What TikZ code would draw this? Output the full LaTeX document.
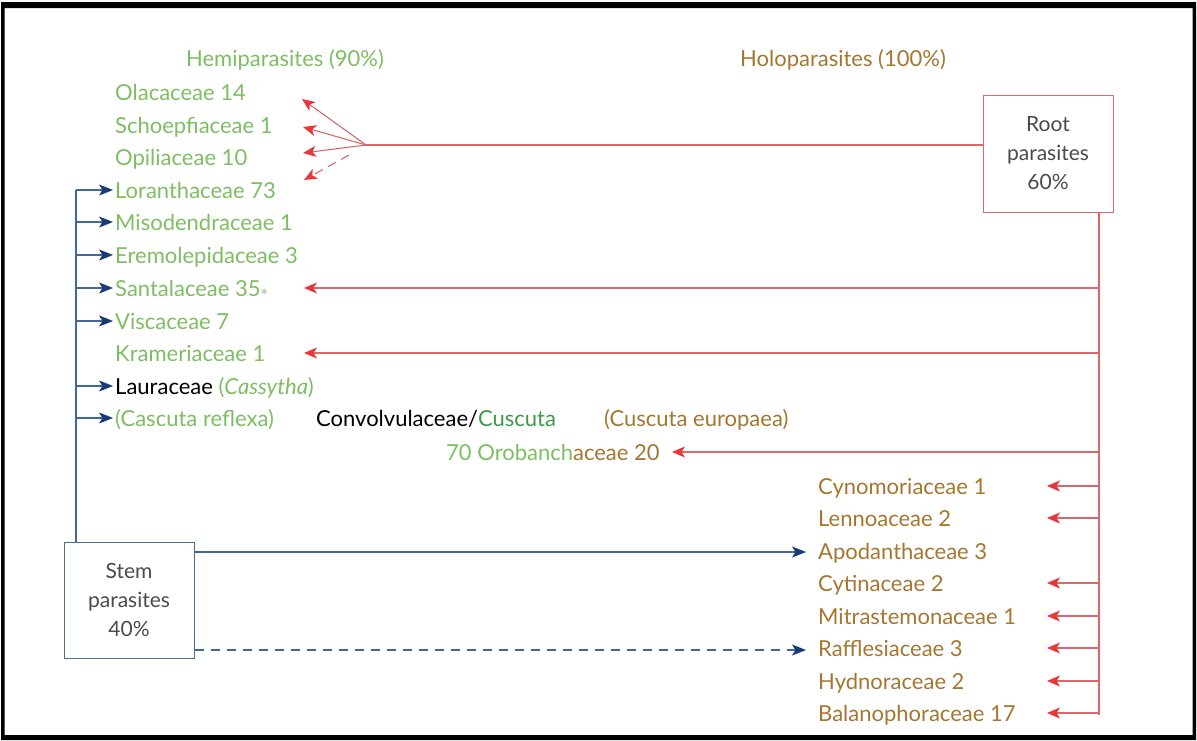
\documentclass[tikz,border=0pt]{standalone}
\usepackage{fontspec}
\setmainfont{Lato}
\usetikzlibrary{arrows.meta}
\definecolor{hemi}{HTML}{7DBE62}
\definecolor{holo}{HTML}{A5762F}
\definecolor{cusc}{HTML}{3E9A4A}
\definecolor{rline}{HTML}{D9686A}
\definecolor{rtip}{HTML}{E8373A}
\definecolor{bline}{HTML}{3F6A98}
\definecolor{btip}{HTML}{1B3A7A}
\definecolor{boxtxt}{HTML}{4A4A4A}
\tikzset{
  lab/.style={anchor=base west, inner sep=0pt, font=\fontsize{22}{26}\selectfont},
  hemilab/.style={lab, text=hemi},
  hololab/.style={lab, text=holo},
  pbox/.style={draw, line width=1pt, align=center, text=boxtxt, font=\fontsize{21}{29}\selectfont, inner sep=0pt},
  rarr/.style={draw=rline, line width=1.1pt, -{Stealth[length=13pt,width=11pt,inset=3.5pt,color=rtip]}},
  barr/.style={draw=bline, line width=1.1pt, -{Stealth[length=14pt,width=11pt,inset=3.5pt,color=btip]}},
}
\begin{document}
\begin{tikzpicture}[x=1pt,y=-1pt]
\useasboundingbox (0,0) rectangle (1197,740);
% frame
\fill[black, even odd rule] (1,2) rectangle (1196,740) (4.5,8) rectangle (1192.5,735);
% headers
\node[hemilab, anchor=base] (hemi) at (285,66) {Hemiparasites (90\%)};
\node[hololab, anchor=base] (holo) at (843,66) {Holoparasites (100\%)};
% left list
\node[hemilab] (ola) at (115,100) {Olacaceae 14};
\node[hemilab] (sch) at (115,133) {Schoepfiaceae 1};
\node[hemilab] (opi) at (115,165) {Opiliaceae 10};
\node[hemilab] (lor) at (115,198) {Loranthaceae 73};
\node[hemilab] (mis) at (115,230) {Misodendraceae 1};
\node[hemilab] (ere) at (115,263) {Eremolepidaceae 3};
\node[hemilab] (san) at (115,296) {Santalaceae 35{\color{hemi!60!gray}\raisebox{1pt}{\fontsize{15}{15}\selectfont$\ast$}}};
\node[hemilab] (vis) at (115,329) {Viscaceae 7};
\node[hemilab] (kra) at (115,361) {Krameriaceae 1};
\node[lab, text=black] (lau) at (115,394) {Lauraceae {\color{hemi}(\textit{Cassytha})}};
\node[hemilab] (cre) at (115,426) {(Cascuta reflexa)};
\node[lab, text=black] (con) at (316,426) {Convolvulaceae/{\color{cusc}Cuscuta}};
\node[hololab] (ceu) at (604,426) {(Cuscuta europaea)};
\node[lab] (oro) at (446,460) {{\color{hemi}70 Orobanch}{\color{holo}aceae 20}};
% right list
\node[hololab] (cyn) at (818,494) {Cynomoriaceae 1};
\node[hololab] (len) at (818,526) {Lennoaceae 2};
\node[hololab] (apo) at (818,559) {Apodanthaceae 3};
\node[hololab] (cyt) at (818,591) {Cytinaceae 2};
\node[hololab] (mit) at (818,624) {Mitrastemonaceae 1};
\node[hololab] (raf) at (818,656) {Rafflesiaceae 3};
\node[hololab] (hyd) at (818,689) {Hydnoraceae 2};
\node[hololab] (bal) at (818,721) {Balanophoraceae 17};
% boxes
\node[pbox, draw=rline, minimum width=130pt, minimum height=117pt] (root) at (1048,153.5) {Root\\parasites\\60\%};
\node[pbox, draw=bline!80!gray, minimum width=130pt, minimum height=116pt] (stem) at (129,600) {Stem\\parasites\\40\%};
% root connectors
\coordinate (fan) at (366,145);
\coordinate (rtop) at (1099,212);
\coordinate (rbot) at (1099,715);
\draw[draw=rline, line width=1.1pt] (root.west |- fan) -- (fan);
\draw[draw=rline, line width=1.1pt] (rtop) -- (rbot);
\coordinate (t1) at (302,99);
\coordinate (t2) at (303,127);
\coordinate (t3) at (303,153);
\coordinate (t4) at (304,180);
\coordinate (d4) at (349,155);
\draw[rarr] (fan) -- (t1);
\draw[rarr] (fan) -- (t2);
\draw[rarr] (fan) -- (t3);
\draw[rarr, dash pattern=on 9pt off 6pt] (d4) -- (t4);
\coordinate (sanR) at (1099,288);
\coordinate (kraR) at (1099,353);
\coordinate (oroR) at (1099,452);
\draw[rarr] (sanR) -- (304,288);
\draw[rarr] (kraR) -- (304,353);
\draw[rarr] (oroR) -- (672,452);
\foreach \y in {486,518,583,616,648,681,713}{
  \draw[rarr] (1099,\y) -- (1047,\y);
}
% stem connectors
\coordinate (stop) at (76,190);
\draw[draw=bline, line width=1.1pt] (stem.north -| stop) -- (stop);
\foreach \y in {190,222,255,288,321,386,418}{
  \draw[barr] (76,\y) -- (113,\y);
}
\draw[barr] (stem.east |- 0,552) -- (806,552);
\draw[barr, dash pattern=on 9pt off 7pt] (stem.east |- 0,650) -- (806,650);
\end{tikzpicture}
\end{document}
